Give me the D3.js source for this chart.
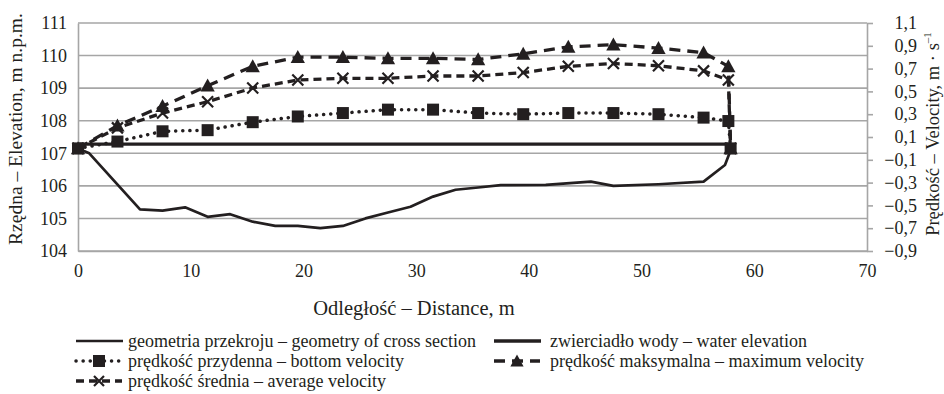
<!DOCTYPE html>
<html>
<head>
<meta charset="utf-8">
<script src="https://cdn.jsdelivr.net/npm/d3@7"></script>
<style>
  html, body { margin: 0; padding: 0; background: #fff; }
  svg text { font-family: "Liberation Serif", "DejaVu Serif", serif; fill: #231f20; }
</style>
</head>
<body>
<svg id="chart" width="944" height="394"></svg>
<script>
// cross section geometry (distance m, elevation m n.p.m.)
var geomDist = [0, 1, 5.5, 7.5, 9.5, 11.5, 13.5, 15.5, 17.5, 19.5, 21.5, 23.5, 25.5, 27.5, 29.5, 31.5, 33.5, 35.5, 37.5, 41.5, 45.5, 47.5, 51.5, 55.5, 57.4, 57.8, 57.9];
var geomElev = [107.15, 107.0, 105.28, 105.24, 105.34, 105.05, 105.13, 104.9, 104.77, 104.77, 104.7, 104.77, 105.0, 105.18, 105.36, 105.67, 105.88, 105.95, 106.02, 106.03, 106.13, 106.0, 106.05, 106.13, 106.64, 107.0, 107.15];
// water surface
var waterDist = [0, 57.9];
var waterElev = [107.28, 107.28];
// velocity verticals
var velDist = [0, 3.5, 7.5, 11.5, 15.5, 19.5, 23.5, 27.5, 31.5, 35.5, 39.5, 43.5, 47.5, 51.5, 55.5, 57.7, 57.9];
var velBottom = [0, 0.06, 0.15, 0.16, 0.23, 0.28, 0.31, 0.34, 0.34, 0.31, 0.30, 0.31, 0.31, 0.30, 0.27, 0.24, 0];
var velMax = [0, 0.2, 0.37, 0.55, 0.72, 0.8, 0.8, 0.79, 0.79, 0.78, 0.83, 0.89, 0.91, 0.88, 0.84, 0.72, 0];
var velAvg = [0, 0.18, 0.31, 0.41, 0.53, 0.6, 0.615, 0.615, 0.635, 0.635, 0.665, 0.72, 0.745, 0.725, 0.68, 0.6, 0];

var xTicks = [0, 10, 20, 30, 40, 50, 60, 70];
var elevTicks = [104, 105, 106, 107, 108, 109, 110, 111];
var velTicks = [-0.9, -0.7, -0.5, -0.3, -0.1, 0.1, 0.3, 0.5, 0.7, 0.9, 1.1];

var legendLabels = [
    'geometria przekroju – geometry of cross section',
    'zwierciadło wody – water elevation',
    'prędkość przydenna – bottom velocity',
    'prędkość maksymalna – maximum velocity',
    'prędkość średnia – average velocity'
];

var plot = {left: 78, right: 867, top: 23, bottom: 251};
var gridColor = '#a6a6a6',
    ink = '#231f20';

var svg = d3.select('#chart');

var x = d3.scaleLinear().domain([0, 70]).range([plot.left, plot.right]);
var yElev = d3.scaleLinear().domain([104, 111]).range([plot.bottom, plot.top]);
var yVel = d3.scaleLinear().domain([-0.9, 1.1]).range([plot.bottom, plot.top]);

function zipPts(xs, ys) {
    return xs.map(function (d, i) { return [d, ys[i]]; });
}

// grid
svg.append('g').selectAll('line')
    .data(elevTicks)
    .enter().append('line')
    .attr('x1', plot.left).attr('x2', plot.right)
    .attr('y1', function (d) { return yElev(d); })
    .attr('y2', function (d) { return yElev(d); })
    .attr('stroke', gridColor).attr('stroke-width', 1.6);

// left axis
var leftAxis = d3.axisLeft(yElev).tickValues(elevTicks).tickSize(0).tickPadding(11)
    .tickFormat(d3.format('d'));
var gL = svg.append('g').attr('transform', 'translate(' + plot.left + ',0)').call(leftAxis);
gL.select('.domain').attr('stroke', gridColor).attr('stroke-width', 1.6);

// bottom axis
var bottomAxis = d3.axisBottom(x).tickValues(xTicks).tickSize(0).tickPadding(13);
var gB = svg.append('g').attr('transform', 'translate(0,' + plot.bottom + ')').call(bottomAxis);
gB.select('.domain').attr('stroke', gridColor).attr('stroke-width', 1.6);

// right axis
var rightAxis = d3.axisRight(yVel).tickValues(velTicks).tickSizeInner(6).tickSizeOuter(0).tickPadding(44)
    .tickFormat(function (d) { return d3.format('.1f')(d).replace('-', '–').replace('.', ','); });
var gR = svg.append('g').attr('transform', 'translate(' + plot.right + ',0)').call(rightAxis);
gR.select('.domain').attr('stroke', gridColor).attr('stroke-width', 1.6);
gR.selectAll('.tick line').attr('stroke', gridColor).attr('stroke-width', 1.6);
gR.selectAll('.tick text').attr('text-anchor', 'end');

svg.selectAll('.tick text')
    .attr('font-family', '"Liberation Serif", serif')
    .attr('font-size', 18)
    .attr('fill', ink);

// axis titles
svg.append('text')
    .attr('transform', 'translate(22,129) rotate(-90)')
    .attr('text-anchor', 'middle')
    .attr('font-size', 19.5)
    .text('Rzędna – Elevation, m n.p.m.');

var rt = svg.append('text')
    .attr('transform', 'translate(939,134) rotate(-90)')
    .attr('text-anchor', 'middle')
    .attr('font-size', 18.5);
rt.append('tspan').text('Prędkość – Velocity, m · s');
rt.append('tspan').attr('font-size', 11).attr('dy', -8).text('–1');

svg.append('text')
    .attr('x', 414).attr('y', 315)
    .attr('text-anchor', 'middle')
    .attr('font-size', 20.5)
    .text('Odległość – Distance, m');

// lines
var lineElev = d3.line().x(function (d) { return x(d[0]); }).y(function (d) { return yElev(d[1]); });
var lineVel = d3.line().x(function (d) { return x(d[0]); }).y(function (d) { return yVel(d[1]); });

var styles = {
    geom: {width: 2.7, dash: null, cap: 'butt'},
    water: {width: 3.3, dash: null, cap: 'butt'},
    bottom: {width: 3.5, dash: '0.1,7', cap: 'round'},
    max: {width: 3.3, dash: '11,7', cap: 'butt'},
    avg: {width: 3.3, dash: '8,5', cap: 'butt'}
};

function drawPath(g, d, st) {
    return g.append('path')
        .attr('d', d)
        .attr('fill', 'none')
        .attr('stroke', ink)
        .attr('stroke-width', st.width)
        .attr('stroke-linecap', st.cap)
        .attr('stroke-linejoin', 'round')
        .attr('stroke-dasharray', st.dash);
}

var gLines = svg.append('g');
drawPath(gLines, lineElev(zipPts(geomDist, geomElev)), styles.geom);
drawPath(gLines, lineElev(zipPts(waterDist, waterElev)), styles.water);
drawPath(gLines, lineVel(zipPts(velDist, velMax)), styles.max);
drawPath(gLines, lineVel(zipPts(velDist, velAvg)), styles.avg);
drawPath(gLines, lineVel(zipPts(velDist, velBottom)), styles.bottom);

// markers
function markTriangle(g, cx, cy, s) {
    g.append('path')
        .attr('d', 'M' + cx + ',' + (cy - s * 0.55) + 'L' + (cx + s * 0.55) + ',' + (cy + s * 0.45) +
            'L' + (cx - s * 0.55) + ',' + (cy + s * 0.45) + 'Z')
        .attr('fill', ink);
}
function markCross(g, cx, cy, s) {
    var h = s / 2;
    g.append('path')
        .attr('d', 'M' + (cx - h) + ',' + (cy - h) + 'L' + (cx + h) + ',' + (cy + h) +
            'M' + (cx + h) + ',' + (cy - h) + 'L' + (cx - h) + ',' + (cy + h))
        .attr('stroke', ink).attr('stroke-width', 2.2).attr('fill', 'none');
}
function markSquare(g, cx, cy, s) {
    g.append('rect')
        .attr('x', cx - s / 2).attr('y', cy - s / 2)
        .attr('width', s).attr('height', s)
        .attr('fill', ink);
}

var gMarks = svg.append('g');
velDist.forEach(function (d, i) {
    markTriangle(gMarks, x(d), yVel(velMax[i]), 13);
});
velDist.forEach(function (d, i) {
    markCross(gMarks, x(d), yVel(velAvg[i]), 11);
});
velDist.forEach(function (d, i) {
    markSquare(gMarks, x(d), yVel(velBottom[i]), 12);
});

// legend
var legendItems = [
    {label: legendLabels[0], st: styles.geom, mark: null, x: 76, y: 341},
    {label: legendLabels[1], st: styles.water, mark: null, x: 494, y: 341},
    {label: legendLabels[2], st: styles.bottom, mark: markSquare, x: 76, y: 361},
    {label: legendLabels[3], st: styles.max, mark: markTriangle, x: 494, y: 361},
    {label: legendLabels[4], st: styles.avg, mark: markCross, x: 76, y: 381}
];
var gLeg = svg.append('g');
legendItems.forEach(function (it) {
    var len = it.mark ? 46 : 47;
    drawPath(gLeg, 'M' + it.x + ',' + it.y + 'H' + (it.x + len), it.st);
    if (it.mark) {
        it.mark(gLeg, it.x + len / 2, it.y, it.mark === markCross ? 10 : 12);
    }
    gLeg.append('text')
        .attr('x', it.x + (it.x < 200 ? 52 : 56))
        .attr('y', it.y)
        .attr('dy', '0.33em')
        .attr('font-size', 18)
        .text(it.label);
});
</script>
</body>
</html>
